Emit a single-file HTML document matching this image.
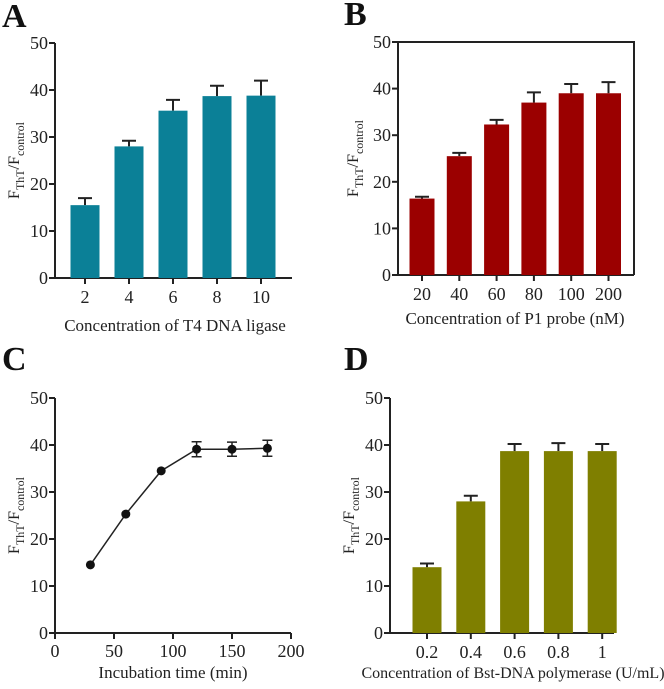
<!DOCTYPE html>
<html><head><meta charset="utf-8"><style>
html,body{margin:0;padding:0;background:#fff;}
svg{display:block;font-family:"Liberation Serif",serif;}
</style></head><body>
<svg id="fig" width="664" height="689" viewBox="0 0 664 689" xmlns="http://www.w3.org/2000/svg"></svg>
<script>
// Panel A data
const catsA = ["2","4","6","8","10"];
const valsA = [15.5, 28.0, 35.6, 38.7, 38.8];
const errA  = [1.5, 1.2, 2.3, 2.2, 3.2];
// Panel B data
const catsB = ["20","40","60","80","100","200"];
const valsB = [16.4, 25.5, 32.3, 37.0, 39.0, 39.0];
const errB  = [0.4, 0.7, 1.0, 2.2, 2.0, 2.4];
// Panel C data
const timeC = [30, 60, 90, 120, 150, 180];
const valsC = [14.5, 25.3, 34.5, 39.1, 39.1, 39.3];
const errC  = [0, 0, 0, 1.6, 1.5, 1.7];
const xTicksC = [0, 50, 100, 150, 200];
// Panel D data
const catsD = ["0.2","0.4","0.6","0.8","1"];
const valsD = [14.0, 28.0, 38.7, 38.7, 38.7];
const errD  = [0.8, 1.2, 1.5, 1.7, 1.5];
const yTicks = [0, 10, 20, 30, 40, 50];

const svg = document.getElementById('fig');
const NS = "http://www.w3.org/2000/svg";
function el(tag, attrs, parent, text){
  const e = document.createElementNS(NS, tag);
  for (const k in attrs) e.setAttribute(k, attrs[k]);
  if (text !== undefined) e.textContent = text;
  (parent||svg).appendChild(e);
  return e;
}
function yAxis(g, x0, yTop, yBot, labelX){
  const y = v => yBot - (v/50)*(yBot-yTop);
  const ax = el('line',{x1:x0,y1:yTop,x2:x0,y2:yBot,stroke:'#222','stroke-width':2},g);
  
  
  yTicks.forEach(t=>{
    const tk = el('line',{x1:x0-6,y1:y(t),x2:x0,y2:y(t),stroke:'#222','stroke-width':2},g);
    
    
    const tl = el('text',{x:x0-7,y:y(t)+6,'text-anchor':'end','font-size':18,fill:'#222'},g,String(t));
    
    
  });
  const cy = (yTop+yBot)/2;
  const t = el('text',{transform:`translate(${labelX},${cy}) rotate(-90)`,'text-anchor':'middle','font-size':16,fill:'#222'},g);
  
  
  el('tspan',{},t,'F');
  el('tspan',{dy:5,'font-size':12},t,'ThT');
  el('tspan',{dy:-5},t,'/F');
  el('tspan',{dy:5,'font-size':12},t,'control');
  return y;
}
function panelLetter(g, x, y, s){
  const t = el('text',{x:x,y:y,'font-size':34,'font-weight':'bold',fill:'#111'},g,s);
  
  
}
function barPanel(name, cats, vals, errs, o){
  const g = el('g',{});
  
  
  panelLetter(g, o.lx, o.ly, o.letter);
  const y = yAxis(g, o.x0, o.yTop, o.yBot, o.labelX);
  if (o.box){
    const b = el('path',{d:`M${o.x0},${o.yTop} H${o.x1} V${o.yBot}`,fill:'none',stroke:'#222','stroke-width':2},g);
    
    
  }
  const xa = el('line',{x1:o.x0,y1:o.yBot,x2:o.x1,y2:o.yBot,stroke:'#222','stroke-width':2},g);
  
  
  cats.forEach((c,i)=>{
    const cx = o.c0 + i*o.step;
    const er = el('path',{d:`M${cx},${y(vals[i])} V${y(vals[i]+errs[i])} M${cx-7},${y(vals[i]+errs[i])} H${cx+7}`,stroke:'#222','stroke-width':2,fill:'none'},g);
    
    
    const r = el('rect',{x:cx-o.bw/2,y:y(vals[i]),width:o.bw,height:o.yBot-y(vals[i]),fill:o.color},g);
    
    
    const tk = el('line',{x1:cx,y1:o.yBot,x2:cx,y2:o.yBot+6,stroke:'#222','stroke-width':2},g);
    
    
    const tl = el('text',{x:cx,y:o.yBot+25,'text-anchor':'middle','font-size':18,fill:'#222'},g,c);
    
    
  });
  const xt = el('text',{x:o.titleX,y:o.titleY,'text-anchor':'middle','font-size':o.tfs||17,fill:'#222'},g,o.title);
  
  
}
barPanel('panel-a', catsA, valsA, errA, {letter:'A',lx:2,ly:27,x0:55,x1:292,yTop:43,yBot:278,labelX:19,c0:85,step:44,bw:29,color:'#0b8097',title:'Concentration of T4 DNA ligase',titleX:175,titleY:331});
barPanel('panel-b', catsB, valsB, errB, {letter:'B',lx:344,ly:25,x0:398,x1:634,yTop:42,yBot:275,labelX:358,c0:422,step:37.3,bw:25,color:'#9b0000',title:'Concentration of P1 probe (nM)',titleX:515,titleY:324,box:true});
barPanel('panel-d', catsD, valsD, errD, {letter:'D',lx:344,ly:370,x0:390,x1:614,yTop:398,yBot:633,labelX:354,c0:427,step:43.8,bw:29,color:'#7f7f00',title:'Concentration of Bst-DNA polymerase (U/mL)',titleX:513,titleY:678,tfs:16});

// Panel C line chart
(function(){
  const g = el('g',{});
  
  
  panelLetter(g, 2, 370, 'C');
  const x0=55, x1=291, yTop=398, yBot=633;
  const y = yAxis(g, x0, yTop, yBot, 19);
  const x = v => x0 + (v/200)*(x1-x0);
  const xa = el('line',{x1:x0,y1:yBot,x2:x1,y2:yBot,stroke:'#222','stroke-width':2},g);
  
  
  xTicksC.forEach(t=>{
    const tk = el('line',{x1:x(t),y1:yBot,x2:x(t),y2:yBot+6,stroke:'#222','stroke-width':2},g);
    
    
    const tl = el('text',{x:x(t),y:yBot+24,'text-anchor':'middle','font-size':18,fill:'#222'},g,String(t));
    
    
  });
  const pts = timeC.map((t,i)=>x(t)+','+y(valsC[i])).join(' ');
  const ln = el('polyline',{points:pts,fill:'none',stroke:'#222','stroke-width':1.5},g);
  
  
  timeC.forEach((t,i)=>{
    if (errC[i]>0){
      const e = errC[i];
      const er = el('path',{d:`M${x(t)},${y(valsC[i]-e)} V${y(valsC[i]+e)} M${x(t)-5},${y(valsC[i]+e)} H${x(t)+5} M${x(t)-5},${y(valsC[i]-e)} H${x(t)+5}`,stroke:'#222','stroke-width':1.5,fill:'none'},g);
      
      
    }
    const c = el('circle',{cx:x(t),cy:y(valsC[i]),r:4.5,fill:'#111'},g);
    
    
  });
  const xt = el('text',{x:173,y:678,'text-anchor':'middle','font-size':17,fill:'#222'},g,'Incubation time (min)');
  
  
})();
</script>
</body></html>
